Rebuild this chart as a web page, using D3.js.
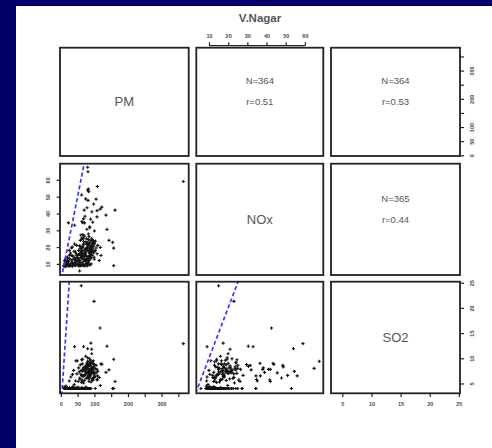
<!DOCTYPE html>
<html>
<head>
<meta charset="utf-8">
<script src="https://cdn.jsdelivr.net/npm/d3@7"></script>
<style>
  html, body { margin: 0; padding: 0; background: #000066; }
  svg { display: block; }
</style>
</head>
<body>
<svg id="chart" width="492" height="448"></svg>
<script>
const title = 'V.Nagar';
const varNames = ['PM', 'NOx', 'SO2'];

// upper panels: [row, col], N and r
const statPairs = [[0, 1], [0, 2], [1, 2]];
const statN = [364, 364, 365];
const statR = ['0.51', '0.53', '0.44'];

const pmTicks = [0, 50, 100, 150, 200, 250, 300, 350];
const pmTickLabels = ['0', '50', '100', '', '200', '', '300', ''];
const noxTicks = [10, 20, 30, 40, 50, 60];
const so2Ticks = [5, 10, 15, 20, 25];

// one value per day, same order in all three arrays
const pm = [
  365, 61, 99, 117, 80, 81, 109, 80, 83, 82,
  62, 74, 81, 97.6, 122, 161.6, 69.5, 92.6, 134.5, 107.6,
  88.7, 67.7, 62.7, 70.7, 22.8, 41, 86, 77.7, 137.5, 59.6,
  65.7, 143.5, 154.5, 117.6, 157.5, 119.6, 157.5, 56, 114.5, 102.6,
  89.6, 67.7, 92, 92, 48.8, 85.7, 65, 105, 78, 95,
  72, 100, 108,
  9, 12, 14, 16, 18, 20, 22, 24, 26, 28,
  30, 31, 33, 35, 36, 38, 40, 41, 43, 45,
  46, 48, 50, 51, 53, 54, 56, 57, 59, 60,
  62, 63, 65, 66, 68, 70, 71, 73, 75, 77,
  78, 80, 82, 84, 86, 88, 90, 25, 34, 47,
  19, 29, 39, 58, 67, 13, 21, 44, 52, 61,
  10, 15, 17, 23, 27, 32, 37, 42, 49, 55,
  58, 64, 69, 72, 76, 79, 83, 87, 11, 20,
  26, 35, 44, 53, 63, 74, 85, 31, 41, 57,
  62, 70, 75, 80, 85, 88, 92, 95, 72, 78,
  83, 86, 90, 66, 74, 81, 87, 93, 98, 101,
  57, 64, 69, 76, 84, 89, 94, 99, 105, 108,
  52, 60, 68, 73, 79, 82, 86, 91, 96, 103,
  55, 58, 63, 71, 77, 84, 88, 92, 97, 110,
  44, 48, 53, 65, 74, 80, 86, 90, 95, 100,
  61, 67, 73, 79, 85, 91, 97, 70, 82, 94,
  56, 64, 76, 88, 100, 68, 78, 90, 62, 84,
  30, 35, 25, 40, 15, 10, 45, 38
];
const nox = [
  59, 15, 23, 42.6, 67.5, 64.8, 56, 54, 53, 54.5,
  51, 48.7, 47.8, 45.6, 43.8, 42, 42, 41, 39, 38,
  36.6, 36.8, 35.2, 34.4, 34.4, 33, 31.5, 30.6, 30.5, 27.2,
  27.4, 24, 22.8, 19.8, 19.4, 15, 9, 5.8, 12, 18,
  17.4, 9, 21, 20, 14, 32, 34.5, 48.5, 43.4, 34.8,
  38.3, 29.6, 41.7,
  9, 10, 8.5, 11, 9, 12, 9.5, 8.8, 13, 10,
  9, 15, 11, 8.6, 12.5, 9.8, 14, 10.5, 8.9, 16,
  11.5, 9.2, 13.5, 10, 18, 8.7, 12, 9.6, 15, 10.8,
  8.9, 13, 20, 9.4, 11.6, 14.5, 9, 17, 10.2, 12.8,
  8.8, 22, 11, 9.5, 16, 13.5, 10, 18, 20, 21,
  14, 16.5, 17.5, 24, 25, 12.5, 10.3, 12, 15.5, 19,
  8.7, 9.3, 10.6, 11.4, 9.1, 12.3, 10.1, 13.2, 9.9, 11.1,
  8.9, 10.4, 12.7, 9.2, 11.3, 10, 14.2, 9.4, 11.8, 13.6,
  15.2, 14.8, 17.1, 11.9, 16.3, 18.6, 12.2, 19.5, 21.8, 20.4,
  14, 16, 13, 18, 15, 20, 17, 22, 19, 14.5,
  21, 16.5, 24, 18, 23, 12.5, 19, 15, 20.5, 17.5,
  13.5, 20, 15.5, 25, 13, 18.5, 22.5, 14, 19.5, 16,
  12.5, 17, 22, 17.5, 20, 24.5, 23, 13.5, 18, 23.5,
  16, 19, 25.5, 12, 21.5, 17, 14, 25, 16.5, 21,
  13, 15, 18, 14, 16, 19.5, 22, 15.5, 19, 12.8,
  17.2, 21.3, 15.1, 22.8, 18.7, 20.2, 23.7, 26.5, 27.8, 24.1,
  20.8, 16.4, 19.2, 17.8, 21.9, 23.3, 12.9, 16.9, 24.6, 26.2,
  9, 10.5, 8.8, 9.5, 8.7, 9, 11, 10
];
const so2 = [
  12.9, 24.4, 21.3, 16, 9.4, 8, 6.5, 11.9, 4, 7.4,
  6.6, 8.3, 6.1, 7.1, 8.8, 5.4, 7.8, 7.8, 7.2, 7.8,
  9, 6.5, 5.5, 4, 4, 12.3, 8.6, 8.4, 12.4, 4,
  4, 7.7, 4, 4.6, 9.8, 8.9, 4, 4, 6.2, 4,
  13, 12.3, 11.8, 10.9, 9.5, 7.7, 6.5, 8.6, 9, 5.8,
  8.1, 8.75, 5.7,
  4, 4, 4, 4.3, 4, 4, 4, 4, 4.2, 4,
  4, 4, 4, 4, 4.4, 4, 4, 4, 4, 4.2,
  4, 4, 4, 4.3, 4, 4, 4, 4, 4, 4,
  4, 4.2, 4, 4, 4, 4, 4, 4, 4.3, 4,
  4, 4, 4, 4, 4, 4, 4, 4, 4, 4,
  4, 4, 4, 4, 4, 4.2, 4, 4, 4, 4,
  4, 4, 4.1, 4, 4, 4, 4.1, 4, 4, 4,
  4, 4, 4, 4.1, 4, 4, 4, 4, 4, 4.1,
  4, 4, 4, 4, 4.1, 4, 4, 4, 4, 4,
  5.2, 5.6, 6, 6.3, 6.8, 7, 7.3, 7.6, 7.9, 8.2,
  8.5, 8.8, 9.1, 6.5, 6.9, 7.2, 7.5, 7.8, 8.1, 6.4,
  6.1, 7.4, 8, 8.6, 9.3, 9.6, 6, 6.7, 7.1, 5.8,
  5.4, 6.8, 7.7, 8.4, 9, 7, 6.2, 8.3, 8.9, 7.9,
  7.3, 8.7, 5.7, 6.6, 7.1, 5.9, 6.5, 8, 9.5, 7.4,
  5.5, 6.9, 8.1, 9.8, 10.4, 10.1, 9.9, 5.3, 5.6, 6.2,
  7.6, 8.1, 7.3, 6.2, 7.4, 7.0, 8.3, 7.8, 6.6, 9.2,
  5.9, 8.9, 7.7, 6.9, 7.2, 5.1, 8.6, 7.9, 9.7, 5.4,
  6.3, 6.8, 5.5, 4.8, 4.5, 4.3, 9.5, 7.6
];

const vars = [pm, nox, so2];
const domains = [[-2.5, 381], [3.4, 69.6], [3.05, 25.2]];

const colX = [[60, 188.7], [196.3, 323.3], [331, 460]];
const rowY = [[47.7, 156], [163.7, 275], [281.7, 393.3]];

const xs = domains.map((d, i) => d3.scaleLinear().domain(d).range(colX[i]));
const ys = domains.map((d, i) => d3.scaleLinear().domain(d).range([rowY[i][1], rowY[i][0]]));

const font = '"Liberation Sans", Arial, sans-serif';
const svg = d3.select('#chart');

svg.append('rect')
  .attr('x', 16).attr('y', 6)
  .attr('width', 476).attr('height', 442)
  .attr('fill', '#fff');

svg.append('text')
  .attr('x', 260).attr('y', 18)
  .attr('text-anchor', 'middle').attr('dominant-baseline', 'central')
  .attr('font-family', font).attr('font-size', 11.5).attr('font-weight', 'bold')
  .attr('fill', '#555')
  .text(title);

const defs = svg.append('defs');
const plus = 'M-1.6,0H1.6M0,-1.6V1.6';

for (let r = 0; r < 3; r++) {
  for (let c = 0; c < 3; c++) {
    const x0 = colX[c][0], x1 = colX[c][1], y0 = rowY[r][0], y1 = rowY[r][1];
    const g = svg.append('g');
    const cx = (x0 + x1) / 2, cy = (y0 + y1) / 2;

    if (r === c) {
      g.append('text')
        .attr('x', cx).attr('y', cy)
        .attr('text-anchor', 'middle').attr('dominant-baseline', 'central')
        .attr('font-family', font).attr('font-size', 13)
        .attr('fill', '#555')
        .text(varNames[r]);
    } else if (c > r) {
      const k = statPairs.findIndex(p => p[0] === r && p[1] === c);
      g.append('text')
        .attr('x', cx).attr('y', cy - 21)
        .attr('text-anchor', 'middle').attr('dominant-baseline', 'central')
        .attr('font-family', font).attr('font-size', 9.5).attr('fill', '#555')
        .text('N=' + statN[k]);
      g.append('text')
        .attr('x', cx).attr('y', cy)
        .attr('text-anchor', 'middle').attr('dominant-baseline', 'central')
        .attr('font-family', font).attr('font-size', 9.5).attr('fill', '#555')
        .text('r=' + statR[k]);
    } else {
      const id = 'clip' + r + c;
      defs.append('clipPath').attr('id', id)
        .append('rect').attr('x', x0).attr('y', y0)
        .attr('width', x1 - x0).attr('height', y1 - y0);
      const x = xs[c], y = ys[r];
      const xv = vars[c], yv = vars[r];
      const inner = g.append('g').attr('clip-path', `url(#${id})`);

      inner.selectAll('path.pt')
        .data(d3.range(xv.length))
        .enter().append('path')
        .attr('class', 'pt')
        .attr('d', plus)
        .attr('transform', i => `translate(${x(xv[i])},${y(yv[i])})`)
        .attr('stroke', '#111')
        .attr('stroke-width', 1.1)
        .attr('fill', 'none');

      // y = x reference line
      const lo = Math.min(domains[c][0], domains[r][0]);
      const hi = Math.max(domains[c][1], domains[r][1]);
      inner.append('line')
        .attr('x1', x(lo)).attr('y1', y(lo))
        .attr('x2', x(hi)).attr('y2', y(hi))
        .attr('stroke', '#3838ff')
        .attr('stroke-width', 1.7)
        .attr('stroke-dasharray', '4,2.5');
    }

    g.append('rect')
      .attr('x', x0).attr('y', y0)
      .attr('width', x1 - x0).attr('height', y1 - y0)
      .attr('fill', 'none')
      .attr('stroke', '#222')
      .attr('stroke-width', 1.8);
  }
}

function styleAxis(ax) {
  ax.select('.domain').remove();
  ax.selectAll('.tick line').attr('stroke', '#222').attr('stroke-width', 1.2);
  ax.selectAll('text')
    .attr('font-family', font).attr('font-size', 5.5)
    .attr('font-weight', 'bold').attr('fill', '#4a4a4a');
}

// bottom axis, PM
const axB1 = svg.append('g')
  .attr('transform', `translate(0,${rowY[2][1]})`)
  .call(d3.axisBottom(xs[0]).tickValues(pmTicks)
    .tickFormat((d, i) => pmTickLabels[i]).tickSize(3.8).tickPadding(5));
styleAxis(axB1);

// bottom axis, SO2
const axB3 = svg.append('g')
  .attr('transform', `translate(0,${rowY[2][1]})`)
  .call(d3.axisBottom(xs[2]).tickValues(so2Ticks).tickSize(3.8).tickPadding(5));
styleAxis(axB3);

// top axis, NOx
const topY = rowY[0][0] - 2;
const axT = svg.append('g')
  .attr('transform', `translate(0,${topY})`)
  .call(d3.axisTop(xs[1]).tickValues(noxTicks).tickSize(3.4).tickPadding(4.5));
styleAxis(axT);
axT.append('line')
  .attr('x1', xs[1](noxTicks[0])).attr('x2', xs[1](noxTicks[noxTicks.length - 1]))
  .attr('stroke', '#222').attr('stroke-width', 1.2);

// left axis, NOx
const axL = svg.append('g')
  .attr('transform', `translate(${colX[0][0]},0)`)
  .call(d3.axisLeft(ys[1]).tickValues(noxTicks).tickSize(3.3));
styleAxis(axL);
axL.selectAll('text')
  .attr('x', null).attr('dy', null)
  .attr('text-anchor', 'middle').attr('dominant-baseline', 'central')
  .attr('transform', 'translate(-11.7,0) rotate(-90)');

// right axis, PM
const axR1 = svg.append('g')
  .attr('transform', `translate(${colX[2][1] + 0.7},0)`)
  .call(d3.axisRight(ys[0]).tickValues(pmTicks)
    .tickFormat((d, i) => pmTickLabels[i]).tickSize(3.4));
styleAxis(axR1);
axR1.selectAll('text')
  .attr('x', null).attr('dy', null)
  .attr('text-anchor', 'middle').attr('dominant-baseline', 'central')
  .attr('transform', 'translate(11,0) rotate(-90)');

// right axis, SO2
const axR3 = svg.append('g')
  .attr('transform', `translate(${colX[2][1] + 0.7},0)`)
  .call(d3.axisRight(ys[2]).tickValues(so2Ticks).tickSize(3.4));
styleAxis(axR3);
axR3.selectAll('text')
  .attr('x', null).attr('dy', null)
  .attr('text-anchor', 'middle').attr('dominant-baseline', 'central')
  .attr('transform', 'translate(11,0) rotate(-90)');
</script>
</body>
</html>
